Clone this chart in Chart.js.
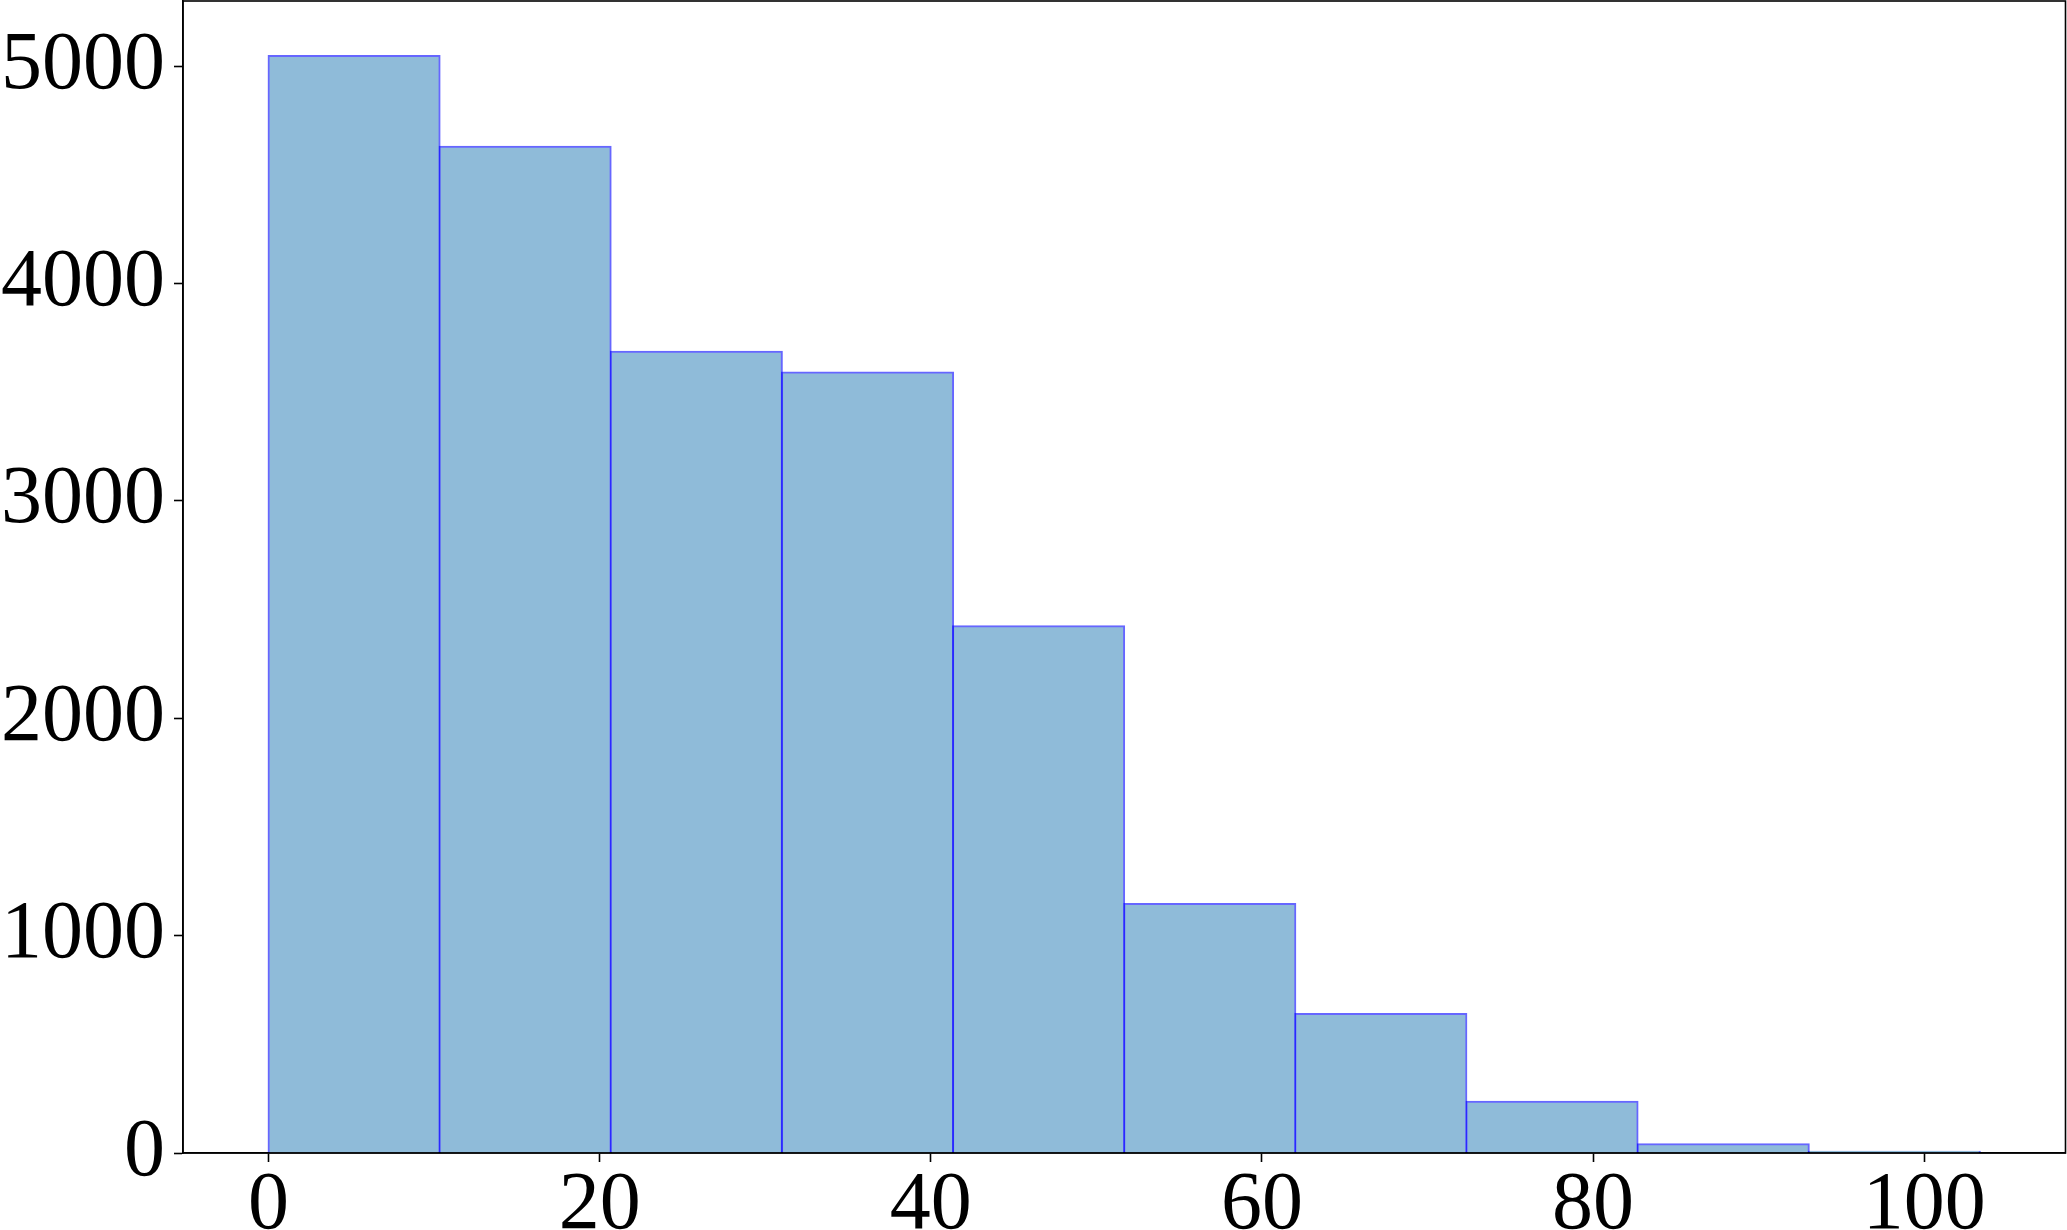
<!DOCTYPE html>
<html>
<head>
<meta charset="utf-8">
<script src="https://cdn.jsdelivr.net/npm/chart.js@4.4.1/dist/chart.umd.min.js"></script>
<style>
    html, body { margin: 0; padding: 0; background: #fff; }
    #wrap { width: 2067px; height: 1230px; position: relative; }
</style>
</head>
<body>
<div id="wrap"><canvas id="histChart"></canvas></div>
<script>
// Histogram bins (centres) and counts
const binCenters = [5.17, 15.50, 25.84, 36.18, 46.51, 56.85, 67.18, 77.52, 87.86, 98.19];
const binCounts = [5047, 4630, 3686, 3591, 2423, 1146, 640, 236, 40, 6];
const xTickValues = [0, 20, 40, 60, 80, 100];
const yTickValues = [0, 1000, 2000, 3000, 4000, 5000];

(function () {
    'use strict';

    const FONT = { family: '"Liberation Serif", "Times New Roman", serif', size: 82 };

    // matplotlib-style full box around the plot
    const frameBox = {
        id: 'frameBox',
        afterDraw: function (chart) {
            const a = chart.chartArea;
            const ctx = chart.ctx;
            ctx.save();
            ctx.strokeStyle = '#000';
            ctx.lineWidth = 1.6;
            ctx.strokeRect(a.left, a.top, a.right - a.left, a.bottom - a.top);
            ctx.restore();
        }
    };

    const keepTicks = function (list) {
        return function (scale) {
            scale.ticks = list.map(function (v) { return { value: v }; });
        };
    };

    const plainLabel = function (v) { return String(v); };

    const ctx = document.getElementById('histChart').getContext('2d');
    new Chart(ctx, {
        type: 'bar',
        data: {
            datasets: [{
                data: binCenters.map(function (x, i) { return { x: x, y: binCounts[i] }; }),
                backgroundColor: 'rgb(143,187,217)',
                borderColor: 'rgba(0,0,255,0.6)',
                borderWidth: 2,
                borderSkipped: 'start',
                inflateAmount: 1,
                barPercentage: 1,
                categoryPercentage: 1
            }]
        },
        options: {
            responsive: true,
            maintainAspectRatio: false,
            animation: false,
            layout: { padding: { top: 1, right: 1.5, left: 0, bottom: 0 } },
            plugins: {
                legend: { display: false },
                tooltip: { enabled: false }
            },
            scales: {
                x: {
                    type: 'linear',
                    offset: false,
                    min: -5.163,
                    max: 108.53,
                    afterBuildTicks: keepTicks(xTickValues),
                    afterFit: function (s) {
                        s.height = 77;
                        s.paddingLeft = 0;
                        s.paddingRight = 0;
                    },
                    grid: {
                        offset: false,
                        drawOnChartArea: false,
                        drawTicks: true,
                        tickLength: 9,
                        tickWidth: 1.6,
                        tickColor: '#000'
                    },
                    border: { display: true, color: '#000', width: 1.6 },
                    ticks: {
                        font: FONT,
                        color: '#000',
                        padding: -5,
                        maxRotation: 0,
                        autoSkip: false,
                        callback: plainLabel
                    }
                },
                y: {
                    min: 0,
                    max: 5300,
                    afterBuildTicks: keepTicks(yTickValues),
                    afterFit: function (s) {
                        s.width = 183;
                        s.paddingTop = 0;
                        s.paddingBottom = 0;
                    },
                    grid: {
                        drawOnChartArea: false,
                        drawTicks: true,
                        tickLength: 9,
                        tickWidth: 1.6,
                        tickColor: '#000'
                    },
                    border: { display: true, color: '#000', width: 1.6 },
                    ticks: {
                        font: FONT,
                        color: '#000',
                        padding: 9,
                        autoSkip: false,
                        callback: plainLabel
                    }
                }
            }
        },
        plugins: [frameBox]
    });
})();
</script>
</body>
</html>
